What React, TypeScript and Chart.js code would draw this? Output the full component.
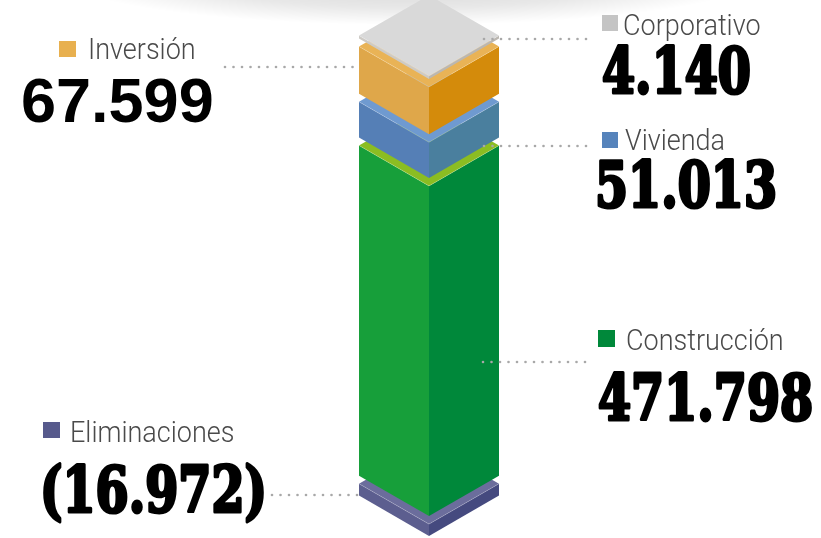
import React, { useEffect, useRef } from "react";
import { Chart, registerables } from "chart.js";

Chart.register(...registerables);

// ---- data ----
const categories = ["Total"];
const seriesNames = ["Eliminaciones", "Construcción", "Vivienda", "Inversión", "Corporativo"];
const seriesValues = [-16972, 471798, 51013, 67599, 4140];
const leftFaceColors = ["#5c5e8f", "#179f3a", "#557fb6", "#dfa74a", "#cdcac5"];
const rightFaceColors = ["#454a7f", "#00883a", "#4a7f9e", "#d48b0b", "#bbb7b1"];
const topFaceColors = ["#6b6d9c", "#8bbd22", "#6f9ad0", "#e9b356", "#d9d9d9"];
const legendColors = ["#575a8c", "#00883a", "#5683bb", "#e8b04f", "#c4c4c4"];

const formatValue = (v: number) => {
  const s = Math.abs(v).toString().replace(/\B(?=(\d{3})+(?!\d))/g, ".");
  return v < 0 ? `(${s})` : s;
};

// annotation layout (label placement only)
const labelLayout = [
  { sq: [43, 422, 17, 16], tx: 70, ty: 442, nx: 40, ny: 512, font: "slab", dots: [272, 360, 495] },
  { sq: [598, 330, 17, 17], tx: 626, ty: 350, nx: 598, ny: 420, font: "slab", dots: [483, 590, 362] },
  { sq: [602, 132, 16, 16], tx: 625, ty: 150, nx: 595, ny: 207, font: "slab", dots: [484, 592, 146] },
  { sq: [59, 41, 17, 16], tx: 88, ty: 59, nx: 20, ny: 122, font: "sans", dots: [225, 360, 67] },
  { sq: [602, 15, 16, 16], tx: 623, ty: 35, nx: 602, ny: 93, font: "slab", dots: [484, 592, 39] },
];

const GAP = 8;

const prismPlugin = {
  id: "prism",
  beforeDraw(chart: any) {
    const ctx = chart.ctx;
    ctx.save();
    ctx.translate(410, -24);
    ctx.scale(1, 0.14);
    const g = ctx.createRadialGradient(0, 0, 0, 0, 0, 350);
    g.addColorStop(0, "rgba(0,0,0,0.18)");
    g.addColorStop(0.65, "rgba(0,0,0,0.09)");
    g.addColorStop(1, "rgba(0,0,0,0)");
    ctx.fillStyle = g;
    ctx.beginPath();
    ctx.arc(0, 0, 350, 0, Math.PI * 2);
    ctx.fill();
    ctx.restore();
  },
  afterDatasetsDraw(chart: any) {
    const ctx = chart.ctx;
    chart.data.datasets.forEach((ds: any, i: number) => {
      const meta = chart.getDatasetMeta(i);
      const el = meta.data[0];
      if (!el) return;
      const { x, y, base, width } = el.getProps(["x", "y", "base", "width"], true);
      const off = i * GAP;
      const top = Math.min(y, base) - off;
      const bottom = Math.max(y, base) - off;
      const hw = width / 2;
      const d = hw * Math.tan(Math.PI / 6);
      ctx.save();
      ctx.fillStyle = leftFaceColors[i];
      ctx.beginPath();
      ctx.moveTo(x - hw, top - d);
      ctx.lineTo(x, top);
      ctx.lineTo(x, bottom);
      ctx.lineTo(x - hw, bottom - d);
      ctx.closePath();
      ctx.fill();
      ctx.fillStyle = rightFaceColors[i];
      ctx.beginPath();
      ctx.moveTo(x, top);
      ctx.lineTo(x + hw, top - d);
      ctx.lineTo(x + hw, bottom - d);
      ctx.lineTo(x, bottom);
      ctx.closePath();
      ctx.fill();
      ctx.fillStyle = topFaceColors[i];
      ctx.beginPath();
      ctx.moveTo(x, top);
      ctx.lineTo(x - hw, top - d);
      ctx.lineTo(x, top - 2 * d);
      ctx.lineTo(x + hw, top - d);
      ctx.closePath();
      ctx.fill();
      ctx.strokeStyle = "rgba(255,255,255,0.25)";
      ctx.lineWidth = 0.8;
      ctx.beginPath();
      ctx.moveTo(x - hw, top - d);
      ctx.lineTo(x, top);
      ctx.lineTo(x + hw, top - d);
      ctx.stroke();
      ctx.restore();
    });
  },
  afterDraw(chart: any) {
    const ctx = chart.ctx;
    ctx.save();
    ctx.font = "bold 64px 'DejaVu Serif'";
    const wReg = ctx.measureText("0123456789").width;
    ctx.font = "bold 64px 'DejaVu Serif Condensed', 'DejaVu Serif'";
    const wCond = ctx.measureText("0123456789").width;
    ctx.restore();
    const slabScale = (0.755 * wReg) / wCond;

    chart.data.datasets.forEach((ds: any, i: number) => {
      const L = labelLayout[i];
      ctx.save();
      ctx.fillStyle = "#a8a8a8";
      const [x1, x2, dy] = L.dots;
      for (let dx = x1; dx <= x2; dx += 8.5) {
        ctx.beginPath();
        ctx.arc(dx, dy, 1.3, 0, Math.PI * 2);
        ctx.fill();
      }
      ctx.fillStyle = legendColors[i];
      ctx.fillRect(L.sq[0], L.sq[1], L.sq[2], L.sq[3]);
      ctx.fillStyle = "#4a4a4a";
      ctx.textBaseline = "alphabetic";
      ctx.textAlign = "left";
      ctx.font = "300 30px Roboto";
      ctx.save();
      ctx.translate(L.tx, L.ty);
      ctx.scale(0.9, 1);
      ctx.fillText(ds.label, 0, 0);
      ctx.restore();
      ctx.fillStyle = "#000";
      ctx.strokeStyle = "#000";
      ctx.lineJoin = "round";
      const v = formatValue(ds.data[0]);
      ctx.save();
      ctx.translate(L.nx, L.ny);
      if (L.font === "sans") {
        ctx.font = "bold 63px 'Liberation Sans'";
        ctx.fillText(v, 1, 0);
      } else {
        ctx.font = "bold 63px 'DejaVu Serif Condensed', 'DejaVu Serif'";
        ctx.scale(slabScale, 1);
        ctx.lineWidth = 3.2;
        ctx.fillText(v, 0, 0);
        ctx.strokeText(v, 0, 0);
      }
      ctx.restore();
      ctx.restore();
    });
  },
};

export default function App() {
  const ref = useRef<HTMLCanvasElement>(null);
  useEffect(() => {
    document.body.style.margin = "0";
    const neg = seriesValues.filter((v) => v < 0).reduce((a, b) => a + b, 0);
    const pos = seriesValues.filter((v) => v > 0).reduce((a, b) => a + b, 0);
    const chart = new Chart(ref.current!, {
      type: "bar",
      data: {
        labels: categories,
        datasets: seriesNames.map((name, i) => ({
          label: name,
          data: [seriesValues[i]],
          backgroundColor: "rgba(0,0,0,0)",
          borderWidth: 0,
          barPercentage: 1,
          categoryPercentage: 1,
        })),
      },
      options: {
        animation: false,
        responsive: true,
        maintainAspectRatio: false,
        layout: { padding: { top: 108, bottom: 2, left: 359, right: 322 } },
        plugins: { legend: { display: false }, tooltip: { enabled: false } },
        scales: {
          x: { stacked: true, display: false },
          y: { stacked: true, display: false, min: neg, max: pos },
        },
      },
      plugins: [prismPlugin],
    });
    return () => chart.destroy();
  }, []);
  return (
    <div style={{ width: 821, height: 538, position: "relative", background: "#fff" }}>
      <canvas ref={ref} />
    </div>
  );
}
